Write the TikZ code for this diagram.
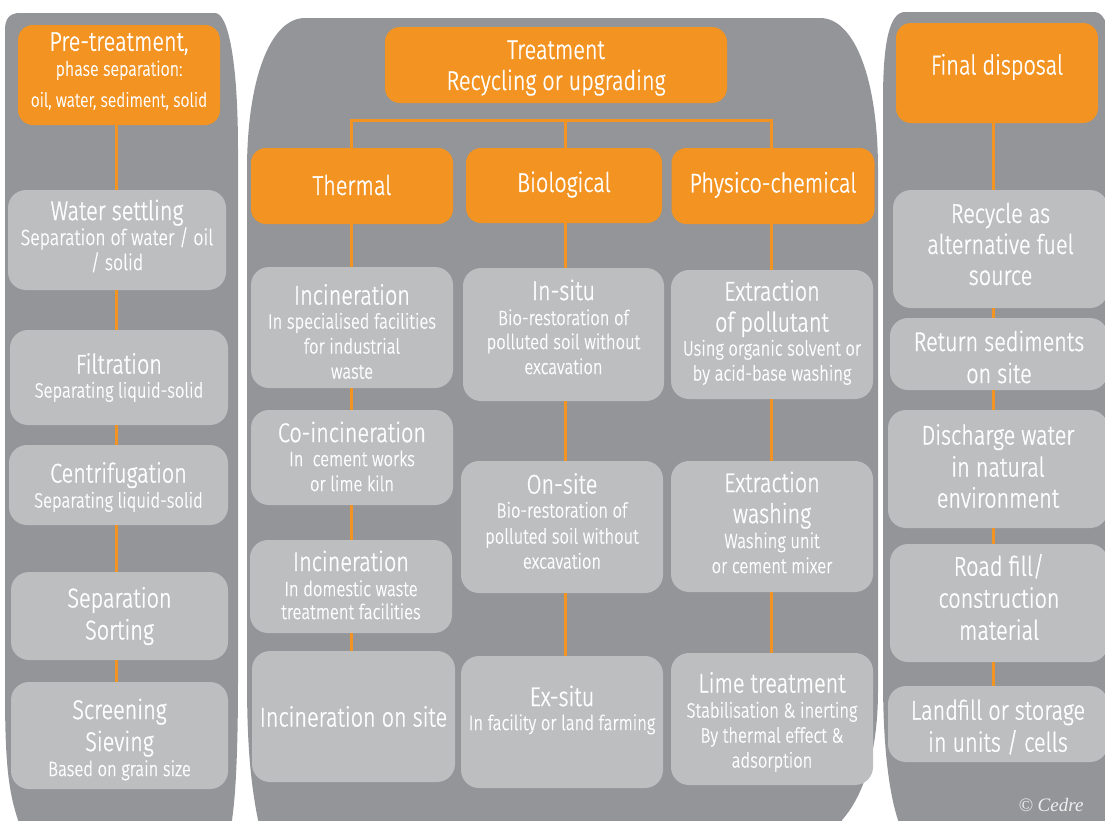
\documentclass[tikz,border=0pt]{standalone}
\usepackage{fontspec}
\setmainfont{Fira Sans}[UprightFont={* Light}, FakeStretch=0.8, FakeBold=1.2]
\newfontfamily\cedrefont{Liberation Serif}
\definecolor{panelgray}{HTML}{939598}
\definecolor{boxgray}{HTML}{BCBEC0}
\definecolor{orng}{HTML}{F39322}
\newcommand\bigt{\fontsize{27}{31}\selectfont}
\newcommand\smallt{\fontsize{20.7}{25}\selectfont}
\newcommand\midt{\fontsize{22}{25}\selectfont}
\begin{document}
\begin{tikzpicture}[x=1pt,y=-1pt,
  panel/.style={fill=panelgray},
  gbox/.style={fill=boxgray, rounded corners=18pt, inner sep=0pt},
  obox/.style={fill=orng, rounded corners=15pt, inner sep=0pt},
  txt/.style={text=white, align=center, font=\smallt, inner sep=0pt,
    execute at begin node={\lineskiplimit=-60pt}},
  link/.style={draw=orng, line width=3pt}]
\useasboundingbox (0,0) rectangle (1105,820);
% panels
\fill[panel] (18,830) -- (18,820) .. controls (8,790) and (5,760) .. (5,690) -- (5,30)
  .. controls (5,18) and (10,13) .. (20,13) -- (215,13) .. controls (228,13) and (238,60) .. (238,150)
  -- (238,680) .. controls (238,760) and (235,800) .. (232,820) -- (232,830) -- cycle;
\fill[panel] (258,830) -- (258,820) .. controls (250,780) and (247,740) .. (247,680) -- (247,170)
  .. controls (247,80) and (270,18) .. (305,18) -- (820,18) .. controls (855,18) and (878,80) .. (878,170)
  -- (878,690) .. controls (878,760) and (860,800) .. (842,820) -- (842,830) -- cycle;
\fill[panel] (898,830) -- (898,820) .. controls (888,790) and (883,740) .. (883,680) -- (883,100)
  .. controls (883,40) and (890,12) .. (905,12) -- (1095,12) .. controls (1100,12) and (1105,18) .. (1108,28)
  -- (1110,830) -- cycle;
% column x coordinates
\coordinate (lx) at (116,0);
\coordinate (tx) at (351,0);
\coordinate (bx) at (565,0);
\coordinate (px) at (771,0);
\coordinate (rx) at (993,0);
\coordinate (barY) at (0,120);
% left column
\node[obox, minimum width=202pt, minimum height=100pt] (pre) at (119,75) {};
\node[txt, font=\fontsize{20}{25}\selectfont, yshift=4pt] (pre-t) at (pre.center)
  {{\bigt Pre-treatment,}\\[0pt] phase separation:\\[6pt] {\fontsize{19.5}{25}\selectfont oil, water, sediment, solid}};
\node[gbox, minimum width=218pt, minimum height=100pt] (ws) at (117,240) {};
\node[txt, font=\midt, yshift=4pt] (ws-t) at (ws.center)
  {{\bigt Water settling}\\[0pt] Separation of water / oil\\ / solid};
\node[gbox, minimum width=218pt, minimum height=95pt] (filt) at (119,377.5) {};
\node[txt] (filt-t) at (filt.center)
  {{\bigt Filtration}\\[-1pt] Separating liquid-solid};
\node[gbox, minimum width=219pt, minimum height=80pt] (cent) at (118.5,485) {};
\node[txt, yshift=-2pt] (cent-t) at (cent.center)
  {{\bigt Centrifugation}\\[0pt] Separating liquid-solid};
\node[gbox, minimum width=217pt, minimum height=88pt] (sep) at (119.5,616) {};
\node[txt] (sep-t) at (sep.center)
  {{\bigt Separation}\\[7pt]{\bigt Sorting}};
\node[gbox, minimum width=217pt, minimum height=107pt] (scr) at (119.5,735.5) {};
\node[txt, yshift=-4pt] (scr-t) at (scr.center)
  {{\bigt Screening}\\[7pt]{\bigt Sieving}\\[0pt] Based on grain size};
\draw[link] (pre.south -| lx) -- (ws.north -| lx);
\draw[link] (ws.south -| lx) -- (filt.north -| lx);
\draw[link] (filt.south -| lx) -- (cent.north -| lx);
\draw[link] (cent.south -| lx) -- (sep.north -| lx);
\draw[link] (sep.south -| lx) -- (scr.north -| lx);
% middle
\node[obox, minimum width=342pt, minimum height=76pt] (treat) at (556,65) {};
\node[txt, yshift=-3pt] (treat-t) at (treat.center)
  {{\bigt Treatment}\\[6pt]{\bigt Recycling or upgrading}};
\node[obox, minimum width=202pt, minimum height=76pt] (therm) at (352,186) {};
\node[txt, font=\bigt, yshift=1pt] (therm-t) at (therm.center) {Thermal};
\node[obox, minimum width=196pt, minimum height=75pt] (bio) at (564,185.5) {};
\node[txt, font=\bigt, yshift=1pt] (bio-t) at (bio.center) {Biological};
\node[obox, minimum width=203pt, minimum height=76pt] (phys) at (773,186) {};
\node[txt, font=\bigt, yshift=1pt] (phys-t) at (phys.center) {Physico-chemical};
\draw[link] (therm.north -| tx) -- (tx |- barY) -- (px |- barY) -- (phys.north -| px);
\draw[link] (bio.north -| bx) -- (bx |- barY);
% thermal column
\node[gbox, minimum width=202pt, minimum height=121pt] (inc1) at (352,327.5) {};
\node[txt, yshift=-4pt] (inc1-t) at (inc1.center)
  {{\bigt Incineration}\\[-1pt] In specialised facilities\\ for industrial\\ waste};
\node[gbox, minimum width=202pt, minimum height=95pt] (coinc) at (352,457.5) {};
\node[txt, yshift=1pt] (coinc-t) at (coinc.center)
  {{\bigt Co-incineration}\\[-1pt] In\ \ cement works\\ or lime kiln};
\node[gbox, minimum width=202pt, minimum height=93pt] (inc2) at (351,586.5) {};
\node[txt, yshift=1.5pt] (inc2-t) at (inc2.center)
  {{\bigt Incineration}\\[0pt] In domestic waste\\[-2pt] treatment facilities};
\node[gbox, minimum width=203pt, minimum height=131pt] (incos) at (353.5,716.5) {};
\node[txt, font=\bigt] (incos-t) at (incos.center) {Incineration on site};
\draw[link] (therm.south -| tx) -- (inc1.north -| tx);
\draw[link] (inc1.south -| tx) -- (coinc.north -| tx);
\draw[link] (coinc.south -| tx) -- (inc2.north -| tx);
\draw[link] (inc2.south -| tx) -- (incos.north -| tx);
% biological column
\node[gbox, minimum width=201pt, minimum height=133pt] (insitu) at (563.5,334.5) {};
\node[txt, yshift=7.5pt] (insitu-t) at (insitu.center)
  {{\bigt In-situ}\\[0pt] Bio-restoration of\\[-1pt] polluted soil without\\ excavation};
\node[gbox, minimum width=202pt, minimum height=132pt] (onsite) at (562,527) {};
\node[txt, yshift=6pt] (onsite-t) at (onsite.center)
  {{\bigt On-site}\\[-1pt] Bio-restoration of\\[1pt] polluted soil without\\ excavation};
\node[gbox, minimum width=202pt, minimum height=132pt] (exsitu) at (562,722) {};
\node[txt, yshift=12pt] (exsitu-t) at (exsitu.center)
  {{\bigt Ex-situ}\\[-1pt] In facility or land farming};
\draw[link] (bio.south -| bx) -- (insitu.north -| bx);
\draw[link] (insitu.south -| bx) -- (onsite.north -| bx);
\draw[link] (onsite.south -| bx) -- (exsitu.north -| bx);
% physico-chemical column
\node[gbox, minimum width=202pt, minimum height=129pt] (extr1) at (772,334.5) {};
\node[txt, yshift=2pt] (extr1-t) at (extr1.center)
  {{\bigt Extraction}\\[6pt]{\bigt of pollutant}\\[-1pt] Using organic solvent or\\ by acid-base washing};
\node[gbox, minimum width=202pt, minimum height=131pt] (extr2) at (772,526.5) {};
\node[txt, yshift=4pt] (extr2-t) at (extr2.center)
  {{\bigt Extraction}\\[6pt]{\bigt washing}\\[0pt] Washing unit\\ or cement mixer};
\node[gbox, minimum width=202pt, minimum height=132pt] (lime) at (772,719) {};
\node[txt, yshift=-3pt] (lime-t) at (lime.center)
  {{\bigt Lime treatment}\\[0pt] Stabilisation \& inerting\\ By thermal effect \&\\ adsorption};
\draw[link] (phys.south -| px) -- (extr1.north -| px);
\draw[link] (extr1.south -| px) -- (extr2.north -| px);
\draw[link] (extr2.south -| px) -- (lime.north -| px);
% right column
\node[obox, minimum width=202pt, minimum height=100pt] (fin) at (997,73) {};
\node[txt, font=\bigt, yshift=6pt] (fin-t) at (fin.center) {Final disposal};
\node[gbox, minimum width=215pt, minimum height=118pt] (rec) at (1000.5,249) {};
\node[txt, font=\bigt, yshift=5pt] (rec-t) at (rec.center)
  {Recycle as\\[0pt] alternative fuel\\[0pt] source};
\node[gbox, minimum width=218pt, minimum height=72pt] (ret) at (999,354) {};
\node[txt, font=\bigt, yshift=-3pt] (ret-t) at (ret.center)
  {Return sediments\\[1pt] on site};
\node[gbox, minimum width=220pt, minimum height=118pt] (dis) at (998,469) {};
\node[txt, font=\bigt, yshift=3pt] (dis-t) at (dis.center)
  {Discharge water\\[1pt] in natural\\[0pt] environment};
\node[gbox, minimum width=218pt, minimum height=118pt] (road) at (999,603) {};
\node[txt, font=\bigt, yshift=6pt] (road-t) at (road.center)
  {Road fill/\\[1pt] construction\\[1pt] material};
\node[gbox, minimum width=220pt, minimum height=76pt] (land) at (998,724) {};
\node[txt, font=\bigt, yshift=-3pt] (land-t) at (land.center)
  {Landfill or storage\\[1pt] in units / cells};
\draw[link] (fin.south -| rx) -- (rec.north -| rx);
\draw[link] (rec.south -| rx) -- (ret.north -| rx);
\draw[link] (ret.south -| rx) -- (dis.north -| rx);
\draw[link] (dis.south -| rx) -- (road.north -| rx);
\draw[link] (road.south -| rx) -- (land.north -| rx);
\node[text=white!88!gray, font=\cedrefont\itshape\fontsize{19}{22}\selectfont] (cedre) at (1051,805) {© Cedre};
\end{tikzpicture}
\end{document}
